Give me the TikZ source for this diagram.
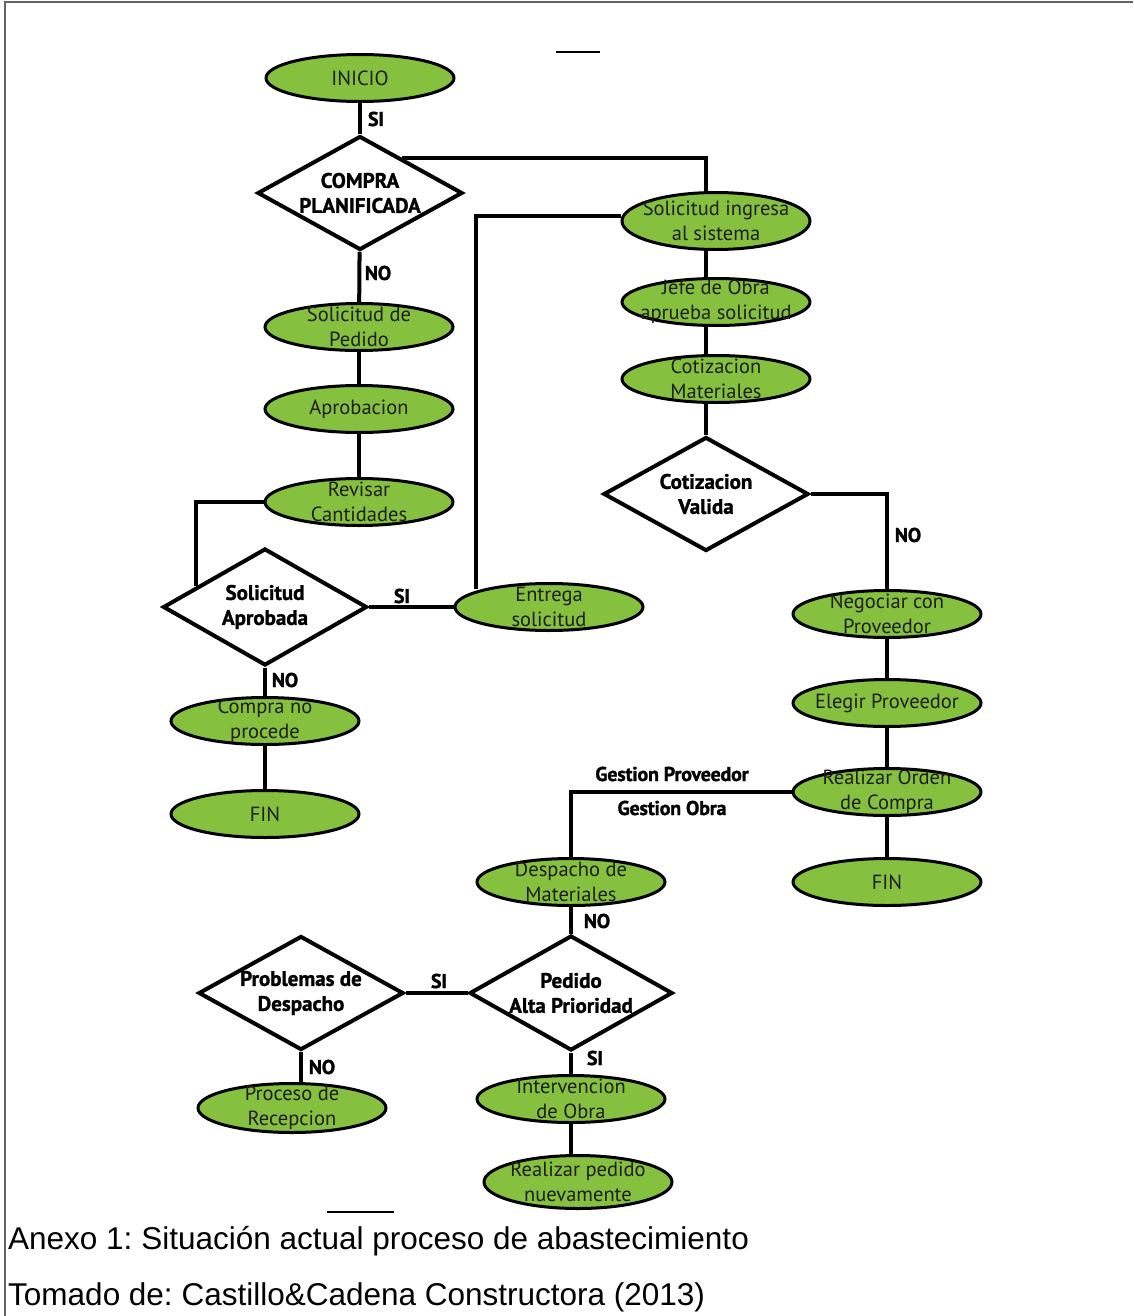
\documentclass[tikz,border=0pt]{standalone}
\usepackage{fontspec}
\setmainfont{PT Sans}
\newfontfamily\lblfont[FakeBold=1.3]{PT Sans}
\newfontfamily\tagfont[FakeBold=1.3,LetterSpace=-1]{PT Sans}
\newfontfamily\capfont{Liberation Sans}
\usetikzlibrary{shapes.geometric,calc}
\definecolor{leaf}{RGB}{134,192,63}
\definecolor{ink}{RGB}{30,30,30}
\definecolor{framegray}{RGB}{100,100,100}
\frenchspacing
\tikzset{
  proc/.style={ellipse, draw=black, line width=3pt, fill=leaf,
    minimum width=188pt, minimum height=47pt, inner xsep=-20pt, inner ysep=-8pt,
    align=center, text=ink, font=\fontsize{20.5}{25}\selectfont},
  decision/.style={diamond, shape aspect=1.8, draw=black, line width=4pt, fill=white,
    minimum width=205pt, minimum height=114pt, inner sep=0pt,
    align=center, text=black, font=\lblfont\bfseries\fontsize{21}{25}\selectfont},
  flow/.style={line width=4pt, draw=black},
  tag/.style={font=\tagfont\bfseries\fontsize{20}{22}\selectfont, inner sep=0pt, text=black},
  caption/.style={anchor=base west, inner sep=0pt, text=black,
    font=\capfont\fontsize{31.5}{36}\selectfont},
}
\begin{document}
\begin{tikzpicture}[x=1pt, y=-1pt]
\useasboundingbox (0,0) rectangle (1133,1316);
\fill[white] (0,0) rectangle (1133,1316);

% page frame
\draw[framegray, line width=2pt] (1133,2) -- (5,2) -- (5,1316);

% left branch
\node[proc] (inicio) at (360,78) {INICIO};
\node[decision] (compra) at (360,193) {COMPRA\\PLANIFICADA};
\node[proc] (pedido) at (359,327) {Solicitud de\\Pedido};
\node[proc] (aprob) at (359,409) {Aprobacion};
\node[proc] (revisar) at (359,502) {Revisar\\Cantidades};
\node[decision, minimum width=204pt, minimum height=117pt] (solap) at (265,607) {Solicitud\\Aprobada};
\node[proc] (entrega) at (549,607) {Entrega\\solicitud};
\node[proc] (noproc) at (265,721) {Compra no\\procede};
\node[proc] (fin1) at (265,814) {FIN};

% right branch
\node[proc, minimum height=57pt] (ingresa) at (716,221) {Solicitud ingresa\\al sistema};
\node[proc] (jefe) at (716,302) {Jefe de Obra\\aprueba solicitud};
\node[proc] (cotiz) at (716,379) {Cotizacion\\Materiales};
\node[decision] (valida) at (706,494) {Cotizacion\\Valida};
\node[proc] (negociar) at (887,614) {Negociar con\\Proveedor};
\node[proc] (elegir) at (887,703) {Elegir Proveedor};
\node[proc] (orden) at (887,792) {Realizar Orden\\de Compra};
\node[proc] (fin2) at (887,882) {FIN};

% dispatch branch
\node[proc] (despacho) at (571,882) {Despacho de\\Materiales};
\node[decision, minimum width=203pt, minimum height=115pt] (alta) at (571,993) {Pedido\\Alta Prioridad};
\node[decision] (problemas) at (301,993) {Problemas de\\Despacho};
\node[proc, minimum height=49pt] (recep) at (292,1108) {Proceso de\\Recepcion};
\node[proc] (interv) at (571,1099) {Intervencion\\de Obra};
\node[proc, minimum height=53pt] (nuevo) at (578,1182) {Realizar pedido\\nuevamente};

% connectors
\draw[flow] (inicio) -- (compra);
\draw[flow] (compra) -- (pedido);
\draw[flow] (pedido) -- (aprob);
\draw[flow] (aprob) -- (revisar);
\draw[flow] (revisar.west) -| ($(solap.west)!0.34!(solap.north)$);
\draw[flow] (solap.east) -- (entrega.west);
\draw[flow] (solap) -- (noproc);
\draw[flow] (noproc) -- (fin1);
\draw[flow] ([xshift=-5pt]entrega.north west) |- ([yshift=5pt]ingresa.west);
\draw[flow] ($(compra.north)!0.4!(compra.east)$) -| ([xshift=-10pt]ingresa.north);
\draw[flow] ([xshift=-10pt]ingresa.south) -- ([xshift=-10pt]jefe.north);
\draw[flow] ([xshift=-10pt]jefe.south) -- ([xshift=-10pt]cotiz.north);
\draw[flow] ([xshift=-10pt]cotiz.south) -- (valida.north);
\draw[flow] (valida.east) -| (negociar.north);
\draw[flow] (negociar) -- (elegir);
\draw[flow] (elegir) -- (orden);
\draw[flow] (orden) -- (fin2);
\draw[flow] (orden.west) -| (despacho.north);
\draw[flow] (despacho) -- (alta);
\draw[flow] (alta.west) -- (problemas.east);
\draw[flow] (problemas.south) -- (problemas.south |- recep.north);
\draw[flow] (alta) -- (interv);
\draw[flow] (interv.south) -- (interv.south |- nuevo.north);

% branch labels
\node[tag] (l1) at (376,119) {SI};
\node[tag] (l2) at (378,273) {NO};
\node[tag] (l3) at (402,596) {SI};
\node[tag] (l4) at (285,680) {NO};
\node[tag] (l5) at (908,535) {NO};
\node[tag] (l6) at (672,774) {Gestion Proveedor};
\node[tag] (l7) at (672,808) {Gestion Obra};
\node[tag] (l8) at (597,921) {NO};
\node[tag] (l9) at (439,981) {SI};
\node[tag] (l10) at (322,1067) {NO};
\node[tag] (l11) at (595,1058) {SI};

% short rules
\coordinate (r1a) at (556,52); \coordinate (r1b) at (600,52);
\coordinate (r2a) at (327,1212); \coordinate (r2b) at (394,1212);
\draw[line width=1.5pt] (r1a) -- (r1b);
\draw[line width=1.5pt] (r2a) -- (r2b);

% caption
\node[caption] (cap1) at (8,1249) {Anexo 1: Situación actual proceso de abastecimiento};
\node[caption] (cap2) at (8,1305) {Tomado de: Castillo\&Cadena Constructora (2013)};
\end{tikzpicture}
\end{document}
